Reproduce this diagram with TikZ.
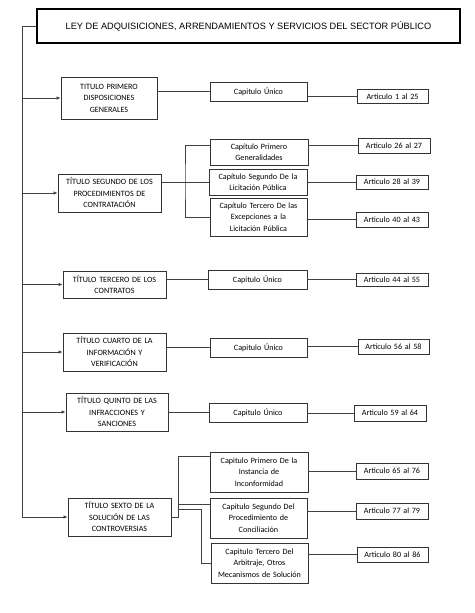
\documentclass[tikz,border=0pt]{standalone}
\usepackage{fontspec}
\setmainfont{Carlito}
\newfontfamily\arialfont{Liberation Sans}
\usetikzlibrary{arrows.meta,calc}
\begin{document}
\begin{tikzpicture}[x=1pt,y=-1pt,
  box/.style={draw=black!80,line width=0.8pt,inner sep=0pt,align=center,
    font=\fontsize{8.1}{11.5}\selectfont,text=black},
  conn/.style={draw=black!75,line width=0.7pt},
  arr/.style={conn,-{Latex[length=4pt,width=3.4pt]}}]
\useasboundingbox (0,0) rectangle (474,613);
\newcommand\bx[6]{\node[box,minimum width=#4,minimum height=#5,text width=#4-4] (#1) at (#2,#3) {#6};}
% title
\node[draw=black,line width=1.6pt,inner sep=0pt,minimum width=423,minimum height=34,
  font=\arialfont\fontsize{9.2}{10}\selectfont,text=black] (top) at (248.5,26)
  {LEY DE ADQUISICIONES, ARRENDAMIENTOS Y SERVICIOS DEL SECTOR PÚBLICO};
% titles
\bx{t1}{109}{98}{96}{42}{TITULO PRIMERO\\DISPOSICIONES\\GENERALES}
\bx{t2}{109.5}{193}{103}{38}{TÍTULO SEGUNDO DE LOS\\PROCEDIMIENTOS DE\\CONTRATACIÓN}
\bx{t3}{114.5}{284.5}{103}{27}{TÍTULO TERCERO DE LOS\\CONTRATOS}
\bx{t4}{114.5}{352}{103}{38}{TÍTULO CUARTO DE LA\\INFORMACIÓN Y\\VERIFICACIÓN}
\bx{t5}{117}{412}{102}{38}{TÍTULO QUINTO DE LAS\\INFRACCIONES Y\\SANCIONES}
\bx{t6}{119.5}{517}{103}{38}{TÍTULO SEXTO DE LA\\SOLUCIÓN DE LAS\\CONTROVERSIAS}
% chapters
\bx{c1}{258.5}{91.5}{97}{19}{Capitulo Único}
\bx{c21}{259}{152}{98}{26}{Capítulo Primero\\Generalidades}
\bx{c22}{258}{182}{98}{26}{Capítulo Segundo De la\\Licitación Pública}
\bx{c23}{258.5}{217}{97}{38}{Capítulo Tercero De las\\Excepciones a la\\Licitación Pública}
\bx{c3}{257.5}{279.5}{99}{19}{Capitulo Único}
\bx{c4}{258.5}{347.5}{97}{19}{Capitulo Único}
\bx{c5}{258}{412.5}{98}{19}{Capitulo Único}
\bx{c61}{259}{472}{98}{40}{Capitulo Primero De la\\Instancia de\\Inconformidad}
\bx{c62}{258.5}{518}{97}{40}{Capitulo Segundo Del\\Procedimiento de\\Conciliación}
\bx{c63}{259.5}{563}{97}{40}{Capitulo Tercero Del\\Arbitraje, Otros\\Mecanismos de Solución}
% articles
\bx{a1}{392.5}{96.5}{71}{14}{Articulo 1 al 25}
\bx{a21}{394}{145.5}{72}{15}{Articulo 26 al 27}
\bx{a22}{392}{182}{72}{14}{Articulo 28 al 39}
\bx{a23}{392}{219.5}{72}{15}{Articulo 40 al 43}
\bx{a3}{392}{279.5}{72}{13}{Articulo 44 al 55}
\bx{a4}{393.5}{346.5}{71}{15}{Articulo 56 al 58}
\bx{a5}{390}{413}{72}{16}{Articulo 59 al 64}
\bx{a61}{392}{471}{72}{16}{Articulo 65 al 76}
\bx{a62}{392}{511}{72}{16}{Articulo 77 al 79}
\bx{a63}{392.5}{554.5}{71}{15}{Articulo 80 al 86}
% trunk
\coordinate (trunk) at (22,0);
\draw[arr] (top.west) -| (trunk |- t6.west) -- (t6.west);
\foreach \t in {t1,t2,t3,t4,t5}{\draw[arr] (trunk |- \t.west) -- (\t.west);}
% title to chapter
\foreach \t/\c in {t1/c1,t3/c3,t4/c4,t5/c5}{\draw[conn] (\t.east |- \c.west) -- (\c.west);}
% chapter to article
\foreach \c/\a in {c1/a1,c21/a21,c22/a22,c23/a23,c3/a3,c4/a4,c5/a5,c61/a61,c62/a62,c63/a63}{\draw[conn] (\c.east |- \a.west) -- (\a.west);}
% bracket t2
\coordinate (j2) at (185,182);
\draw[conn] (t2.east |- j2) -- (c22.west |- j2);
\draw[conn] ($(c21.north west)+(0,7)$) -| (j2) |- (c23.west);
% bracket t6
\coordinate (j6) at (178,517);
\draw[conn] (t6.east) -- (j6) |- ($(c61.north west)+(0,5)$);
\draw[conn] (j6 |- 0,504) -- (c62.west |- 0,504);
\coordinate (k6) at (201,509);
\draw[conn] (j6 |- k6) -- (k6) |- (c63.west);
\end{tikzpicture}
\end{document}
